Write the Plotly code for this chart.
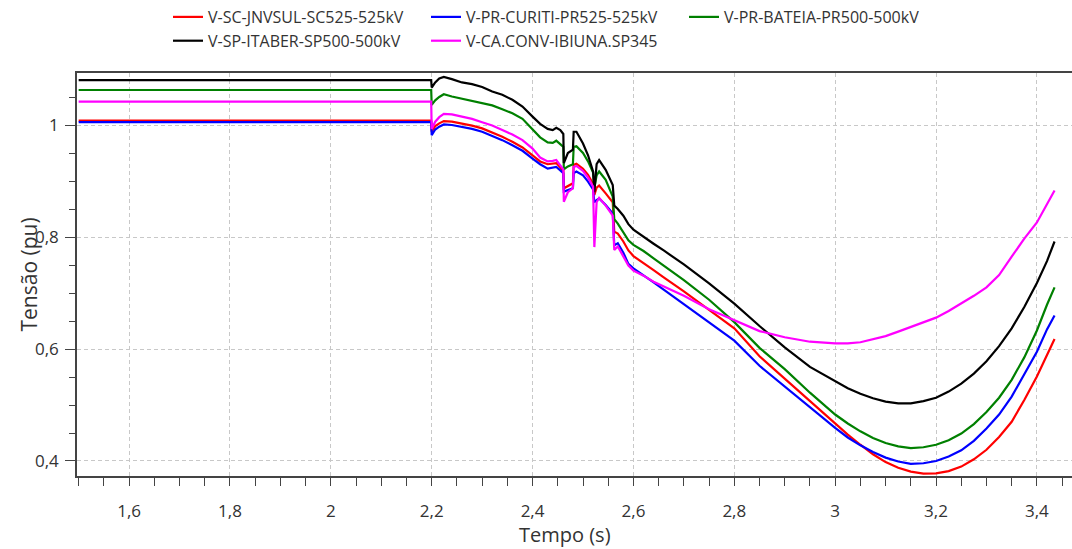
import plotly.graph_objects as go

# Simulation time (s)
tempo = [1.5, 2.199, 2.2, 2.207, 2.215, 2.224, 2.24, 2.26, 2.28, 2.30, 2.32, 2.34, 2.36, 2.38,
         2.40, 2.415, 2.43, 2.44, 2.447, 2.455, 2.461, 2.462, 2.47, 2.48, 2.4815, 2.487, 2.50,
         2.51, 2.52, 2.5225, 2.527, 2.532, 2.545, 2.559, 2.562, 2.569, 2.58, 2.59, 2.60, 2.62,
         2.64, 2.66, 2.70, 2.75, 2.80, 2.85, 2.90, 2.95, 3.00, 3.025, 3.05, 3.075, 3.10, 3.125,
         3.15, 3.175, 3.20, 3.225, 3.25, 3.275, 3.30, 3.325, 3.35, 3.375, 3.40, 3.42, 3.435]

# Bus voltages (pu)
v_jnvsul = [1.008, 1.008, 0.988, 0.998, 1.003, 1.007, 1.006, 1.003, 0.999, 0.994, 0.987, 0.979,
            0.970, 0.960, 0.946, 0.935, 0.930, 0.931, 0.932, 0.924, 0.919, 0.887, 0.891, 0.896,
            0.929, 0.931, 0.922, 0.911, 0.895, 0.875, 0.888, 0.892, 0.878, 0.862, 0.8095, 0.806,
            0.792, 0.776, 0.766, 0.754, 0.741, 0.728, 0.703, 0.670, 0.637, 0.587, 0.547, 0.507,
            0.467, 0.447, 0.429, 0.412, 0.398, 0.388, 0.381, 0.3775, 0.378, 0.382, 0.390, 0.403,
            0.420, 0.443, 0.470, 0.509, 0.551, 0.588, 0.618]

v_curiti = [1.005, 1.005, 0.982, 0.992, 0.997, 1.001, 1.000, 0.997, 0.993, 0.988, 0.981, 0.973,
            0.964, 0.954, 0.940, 0.930, 0.922, 0.923, 0.925, 0.919, 0.914, 0.881, 0.884, 0.887,
            0.914, 0.917, 0.910, 0.899, 0.885, 0.862, 0.866, 0.869, 0.857, 0.842, 0.785, 0.789,
            0.772, 0.752, 0.744, 0.732, 0.719, 0.706, 0.680, 0.647, 0.615, 0.570, 0.533, 0.495,
            0.459, 0.442, 0.428, 0.416, 0.406, 0.399, 0.395, 0.396, 0.400, 0.408, 0.419, 0.436,
            0.458, 0.483, 0.515, 0.555, 0.595, 0.635, 0.660]

v_bateia = [1.0625, 1.0625, 1.036, 1.044, 1.050, 1.055, 1.051, 1.047, 1.044, 1.040, 1.035, 1.028,
            1.021, 1.011, 0.992, 0.978, 0.969, 0.968, 0.972, 0.966, 0.961, 0.921, 0.926, 0.930,
            0.961, 0.962, 0.950, 0.935, 0.915, 0.888, 0.910, 0.917, 0.902, 0.872, 0.832, 0.824,
            0.808, 0.794, 0.786, 0.775, 0.762, 0.749, 0.723, 0.688, 0.648, 0.602, 0.564, 0.522,
            0.483, 0.467, 0.453, 0.441, 0.432, 0.426, 0.423, 0.4245, 0.429, 0.437, 0.449, 0.466,
            0.4875, 0.513, 0.545, 0.585, 0.633, 0.679, 0.710]

v_itaber = [1.080, 1.080, 1.067, 1.076, 1.083, 1.086, 1.082, 1.076, 1.073, 1.068, 1.060, 1.054,
            1.045, 1.033, 1.015, 1.002, 0.993, 0.991, 0.995, 0.991, 0.984, 0.932, 0.950, 0.956,
            0.988, 0.988, 0.967, 0.946, 0.917, 0.880, 0.930, 0.9375, 0.920, 0.893, 0.856, 0.850,
            0.838, 0.823, 0.813, 0.800, 0.788, 0.776, 0.751, 0.717, 0.681, 0.641, 0.603, 0.568,
            0.542, 0.530, 0.520, 0.512, 0.506, 0.503, 0.503, 0.507, 0.513, 0.524, 0.538, 0.556,
            0.578, 0.605, 0.637, 0.675, 0.718, 0.757, 0.792]

v_ibiuna = [1.0417, 1.0417, 0.993, 1.006, 1.014, 1.020, 1.019, 1.015, 1.011, 1.005, 0.999, 0.991,
            0.983, 0.973, 0.958, 0.942, 0.935, 0.936, 0.9375, 0.928, 0.921, 0.863, 0.880, 0.887,
            0.925, 0.927, 0.918, 0.906, 0.890, 0.782, 0.862, 0.870, 0.856, 0.838, 0.777, 0.783,
            0.766, 0.749, 0.740, 0.731, 0.720, 0.712, 0.695, 0.671, 0.651, 0.632, 0.621, 0.613,
            0.610, 0.610, 0.612, 0.617, 0.623, 0.631, 0.639, 0.647, 0.656, 0.668, 0.681, 0.695,
            0.710, 0.732, 0.765, 0.797, 0.826, 0.859, 0.883]

series_names = ["V-SC-JNVSUL-SC525-525kV", "V-PR-CURITI-PR525-525kV", "V-PR-BATEIA-PR500-500kV",
                "V-SP-ITABER-SP500-500kV", "V-CA.CONV-IBIUNA.SP345"]
series_values = [v_jnvsul, v_curiti, v_bateia, v_itaber, v_ibiuna]
series_colors = ["#ff0000", "#0000ff", "#008000", "#000000", "#ff00ff"]

FONT = "Open Sans"
AXIS_COLOR = "#444444"
TEXT_COLOR = "#333333"
GRID_COLOR = "#c8c8c8"

fig = go.Figure()
for name, vals, color in zip(series_names, series_values, series_colors):
    fig.add_trace(go.Scatter(x=tempo, y=vals, mode="lines", name=name,
                             line=dict(color=color, width=2.2)))

common_axis = dict(
    showgrid=True, gridcolor=GRID_COLOR, gridwidth=1, griddash="4px,3px",
    showline=True, linecolor=AXIS_COLOR, linewidth=1.5,
    ticks="outside", tickcolor=AXIS_COLOR, tickwidth=1,
    tickfont=dict(family=FONT, size=17, color=TEXT_COLOR),
    zeroline=False, tick0=0, dtick=0.2,
)

fig.update_layout(
    width=1072, height=549,
    margin=dict(l=77, r=0, t=73, b=73),
    paper_bgcolor="white", plot_bgcolor="white",
    separators=",.",
    font=dict(family=FONT, color=TEXT_COLOR),
    xaxis=dict(common_axis, range=[1.4967, 3.4696], mirror=True, ticklen=8,
               ticklabelstandoff=11,
               minor=dict(dtick=0.05, tick0=0, ticks="outside", ticklen=8,
                          tickcolor=AXIS_COLOR, showgrid=False)),
    yaxis=dict(common_axis, range=[0.3732, 1.0929], ticklen=10, ticklabelstandoff=3,
               minor=dict(dtick=0.05, tick0=0, ticks="outside", ticklen=6,
                          tickcolor=AXIS_COLOR, showgrid=False)),
    legend=dict(orientation="h", xref="container", yref="container",
                x=168 / 1072, y=1.0, xanchor="left", yanchor="top",
                entrywidth=213, entrywidthmode="pixels",
                font=dict(family=FONT, size=16, color=TEXT_COLOR),
                bgcolor="rgba(0,0,0,0)", traceorder="normal"),
    annotations=[
        dict(text="Tempo (s)", xref="paper", yref="paper", x=(565 - 77) / 995, y=-58 / 403,
             xanchor="center", yanchor="middle", showarrow=False,
             font=dict(family=FONT, size=20, color=TEXT_COLOR)),
        dict(text="Tensão (pu)", xref="paper", yref="paper", x=(28 - 77) / 995, y=0.5,
             xanchor="center", yanchor="middle", textangle=-90, showarrow=False,
             font=dict(family=FONT, size=21, color=TEXT_COLOR)),
    ],
)

fig.write_html("out.html")
